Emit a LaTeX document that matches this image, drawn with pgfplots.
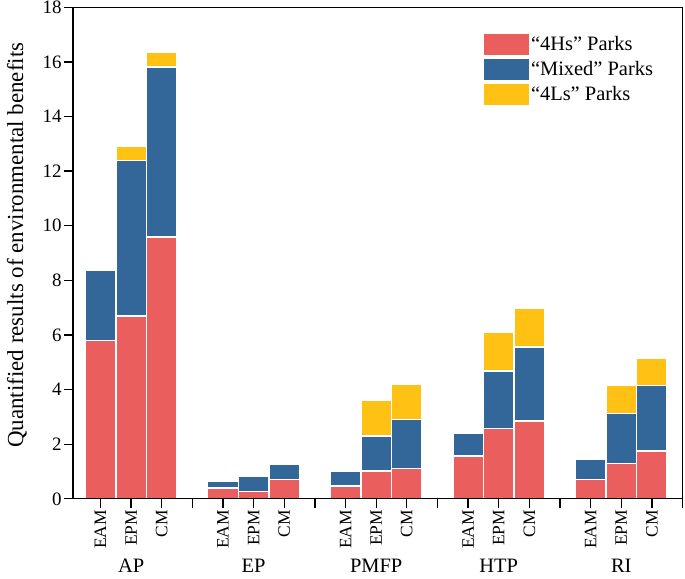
\documentclass[border=0pt]{standalone}
\usepackage{pgfplots}
\pgfplotsset{compat=1.18}
\usepackage{fontspec}
\setmainfont{Liberation Serif}
\definecolor{cHs}{RGB}{235,94,94}
\definecolor{cMix}{RGB}{51,102,153}
\definecolor{cLs}{RGB}{255,193,20}
\begin{document}
\begin{tikzpicture}
\begin{axis}[
  scale only axis,
  width=609bp, height=491bp,
  xmin=0.1, xmax=20, ymin=0, ymax=18,
  ybar stacked, bar width=1,
  axis on top,
  axis line style={line width=1.3bp},
  tick style={black, line width=1.3bp},
  tick align=outside, major tick length=9bp,
  xtick pos=lower, ytick pos=left,
  xtick={1,2,3,4,5,6,7,8,9,10,11,12,13,14,15,16,17,18,19,20},
  xticklabels={EAM,EPM,CM,,EAM,EPM,CM,,EAM,EPM,CM,,EAM,EPM,CM,,EAM,EPM,CM,},
  xticklabel style={rotate=90, anchor=east, font=\fontsize{17.5}{17.5}\selectfont, inner sep=2bp},
  ytick={0,2,...,18},
  yticklabel style={font=\fontsize{19}{19}\selectfont, inner sep=2bp},
  /pgf/number format/assume math mode=true,
  ylabel={Quantified results of environmental benefits},
  ylabel style={font=\fontsize{23}{23}\selectfont, at={(axis description cs:-0.0916,0.516)}, anchor=center},
  clip=false,
  legend cell align=left,
  legend style={at={(rel axis cs:0.674,0.947)}, anchor=north west, draw=none, fill=none,
    font=\fontsize{20.5}{20.5}\selectfont, row sep=4.2bp, inner sep=0pt},
  legend image code/.code={\fill[#1, draw=none] (0bp,-10.5bp) rectangle (45bp,10.5bp);},
  /tikz/every even column/.append style={column sep=9bp},
  every axis plot/.append style={draw=white, line width=1.6bp},
]
\addplot[fill=cHs, draw=white] coordinates {
 (1,5.80) (2,6.69) (3,9.58)
 (5,0.39) (6,0.27) (7,0.71)
 (9,0.47) (10,1.02) (11,1.11)
 (13,1.57) (14,2.58) (15,2.84)
 (17,0.70) (18,1.30) (19,1.76)};
\addplot[fill=cMix, draw=white] coordinates {
 (1,2.58) (2,5.70) (3,6.24)
 (5,0.27) (6,0.54) (7,0.56)
 (9,0.55) (10,1.29) (11,1.79)
 (13,0.85) (14,2.11) (15,2.72)
 (17,0.76) (18,1.82) (19,2.39)};
\addplot[fill=cLs, draw=white] coordinates {
 (1,0) (2,0.52) (3,0.54)
 (5,0) (6,0) (7,0)
 (9,0) (10,1.29) (11,1.28)
 (13,0) (14,1.42) (15,1.43)
 (17,0) (18,1.03) (19,0.99)};
\legend{“4Hs” Parks,“Mixed” Parks,“4Ls” Parks}
\coordinate (bl) at (rel axis cs:0,0);
\coordinate (tr) at (rel axis cs:1,1);
\node[font=\fontsize{20.5}{20.5}\selectfont] at (axis cs:2,0) [yshift=-67bp] {AP};
\node[font=\fontsize{20.5}{20.5}\selectfont] at (axis cs:6,0) [yshift=-67bp] {EP};
\node[font=\fontsize{20.5}{20.5}\selectfont] at (axis cs:10,0) [yshift=-67bp] {PMFP};
\node[font=\fontsize{20.5}{20.5}\selectfont] at (axis cs:14,0) [yshift=-67bp] {HTP};
\node[font=\fontsize{20.5}{20.5}\selectfont] at (axis cs:18,0) [yshift=-67bp] {RI};
\end{axis}
\pgfresetboundingbox
\useasboundingbox ([xshift=-72.8bp,yshift=-79.7bp]bl) rectangle ([xshift=2.5bp,yshift=7.3bp]tr);
\end{tikzpicture}
\end{document}
